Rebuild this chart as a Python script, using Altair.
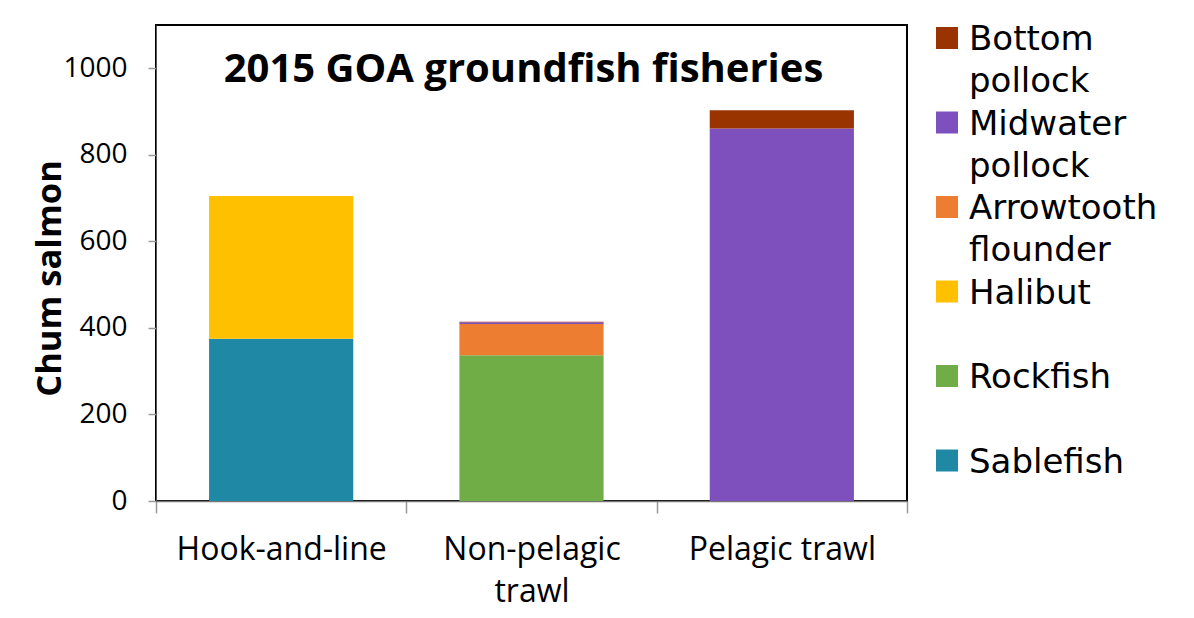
import altair as alt
import pandas as pd

fisheries = ["Hook-and-line", "Non-pelagic trawl", "Pelagic trawl"]
species_legend = ["Bottom pollock", "Midwater pollock", "Arrowtooth flounder",
                  "Halibut", "Rockfish", "Sablefish"]
colors = ["#993300", "#7E50BE", "#ED7D31", "#FFC000", "#70AD47", "#1E88A5"]
# values per species, in fishery order
values = {
    "Sablefish": [375, 0, 0],
    "Rockfish": [0, 337, 0],
    "Halibut": [330, 0, 0],
    "Arrowtooth flounder": [0, 72, 0],
    "Midwater pollock": [0, 4, 861],
    "Bottom pollock": [0, 1, 42],
}
stack_order = ["Sablefish", "Rockfish", "Halibut", "Arrowtooth flounder",
               "Midwater pollock", "Bottom pollock"]
y_ticks = [0, 200, 400, 600, 800, 1000]

rows = []
for sp, vals in values.items():
    for f, v in zip(fisheries, vals):
        rows.append({"fishery": f, "species": sp, "count": v,
                     "order": stack_order.index(sp)})
df = pd.DataFrame(rows)

LEG_DY = 12

chart = alt.Chart(df).mark_bar(width=alt.RelativeBandSize(0.576)).encode(
    x=alt.X("fishery:N", sort=fisheries, title=None,
            scale=alt.Scale(paddingInner=0, paddingOuter=0),
            axis=alt.Axis(labelAngle=0, labelFont="Open Sans", labelFontSize=32,
                          labelColor="#000000", labelPadding=9, labelLimit=400,
                          labelBaseline="top",
                          labelExpr="datum.label == 'Non-pelagic trawl' ? ['Non-pelagic', 'trawl'] : datum.label",
                          labelLineHeight=42, tickBand="extent", tickSize=12,
                          tickColor="#999999", tickWidth=1.5,
                          domainColor="#777777", domainWidth=1.5)),
    y=alt.Y("count:Q", stack="zero", title="Chum salmon",
            scale=alt.Scale(domain=[0, 1100], nice=False),
            axis=alt.Axis(values=y_ticks, grid=False, format="d",
                          labelFont="Open Sans", labelFontSize=28, labelColor="#000000",
                          labelOffset=-LEG_DY,
                          tickSize=8, tickColor="#999999", tickWidth=1.5,
                          domainColor="#555555",
                          labelPadding=21, titleFont="Open Sans", titleFontSize=34.5,
                          titleFontWeight="bold", titleColor="#000000",
                          titleX=-89, titleY=253)),
    color=alt.Color("species:N", sort=species_legend,
                    scale=alt.Scale(domain=species_legend, range=colors),
                    legend=alt.Legend(title=None, orient="none", legendX=774, legendY=-4,
                                      symbolType="square", symbolSize=484,
                                      symbolStrokeWidth=0, labelFont="DejaVu Sans",
                                      labelFontSize=34, labelColor="#000000",
                                      labelOffset=5, labelLimit=400,
                                      labelBaseline="alphabetic",
                                      labelExpr="split(datum.label, ' ')",
                                      gridAlign="all", rowPadding=6.5)),
    order=alt.Order("order:Q", sort="ascending"),
).properties(
    width=751, height=476,
    title=alt.TitleParams("2015 GOA groundfish fisheries", font="Open Sans",
                          fontSize=40, fontWeight="bold", color="#000000",
                          anchor="middle", dy=73, dx=-8),
    padding={"left": 148, "top": 17, "right": 279, "bottom": 109},
    autosize=alt.AutoSizeParams(type="none"),
    background="#ffffff",
).configure(
    view=alt.ViewConfig(stroke="#000000", strokeWidth=2),
    style={"guide-label": {"lineHeight": 42, "dy": LEG_DY}},
)

chart.save("out.html", embed_options={"renderer": "svg", "actions": False})
